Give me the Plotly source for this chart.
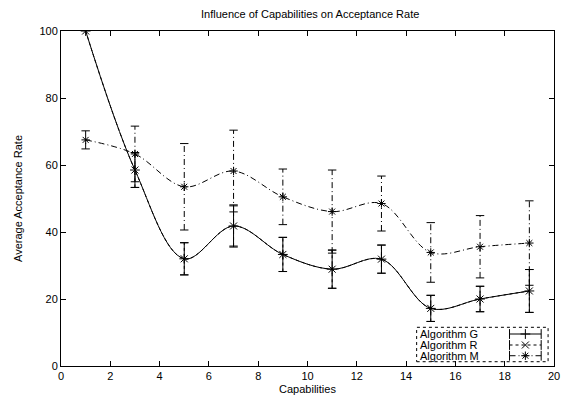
import plotly.graph_objects as go

# Capabilities tested and the average acceptance rate (%) with its spread
capabilities = [1, 3, 5, 7, 9, 11, 13, 15, 17, 19]

alg_g_mean = [100.0, 58.5, 32.0, 41.8, 33.3, 28.9, 31.9, 17.2, 20.0, 22.4]
alg_g_err = [0.0, 5.2, 4.8, 6.3, 5.1, 5.7, 4.2, 3.9, 3.8, 6.4]

alg_r_mean = [100.0, 58.5, 32.0, 41.8, 33.3, 28.9, 31.9, 17.2, 20.0, 22.4]
alg_r_err = [0.0, 5.2, 4.8, 6.0, 5.1, 5.7, 4.2, 3.9, 3.8, 6.4]

alg_m_mean = [67.5, 63.3, 53.5, 58.2, 50.5, 46.1, 48.5, 33.9, 35.6, 36.7]
alg_m_err = [2.7, 8.3, 12.9, 12.2, 8.3, 12.4, 8.2, 8.9, 9.3, 12.6]

series = [
    ("Algorithm G", alg_g_mean, alg_g_err, "solid", "cross-thin"),
    ("Algorithm R", alg_r_mean, alg_r_err, "3px,3px", "x-thin"),
    ("Algorithm M", alg_m_mean, alg_m_err, "6px,3px,1px,3px", "asterisk"),
]

FONT = "Liberation Sans, Arial, Helvetica, sans-serif"
INK = "black"

fig = go.Figure()


def bar_segments(xs, ys, errs):
    """Vertical error-bar segments separated by gaps."""
    sx, sy = [], []
    for x, y, e in zip(xs, ys, errs):
        if e > 0:
            sx += [x, x, None]
            sy += [y - e, y + e, None]
    return sx, sy


for name, mean, err, dash, symbol in series:
    # smoothed curve through the means
    fig.add_trace(go.Scatter(
        x=capabilities, y=mean, mode="lines",
        line=dict(color=INK, width=1, dash=dash, shape="spline", smoothing=1.0),
        showlegend=False, hoverinfo="skip",
    ))
    # error bar stems
    sx, sy = bar_segments(capabilities, mean, err)
    fig.add_trace(go.Scatter(
        x=sx, y=sy, mode="lines",
        line=dict(color=INK, width=1, dash=dash),
        showlegend=False, hoverinfo="skip",
    ))
    # error bar caps
    cx = [x for x, e in zip(capabilities, err) if e > 0] * 2
    cy = ([y - e for y, e in zip(mean, err) if e > 0]
          + [y + e for y, e in zip(mean, err) if e > 0])
    fig.add_trace(go.Scatter(
        x=cx, y=cy, mode="markers",
        marker=dict(symbol="line-ew", size=6, line=dict(color=INK, width=1)),
        showlegend=False, hoverinfo="skip",
    ))
    # point markers
    fig.add_trace(go.Scatter(
        x=capabilities, y=mean, mode="markers",
        marker=dict(symbol=symbol, size=7, color=INK, line=dict(color=INK, width=1)),
        name=name, showlegend=False,
    ))

# Key in the lower right corner: label on the left, sample on the right
key_x0, key_x1 = 0.7214, 0.988
key_y0, key_y1 = 0.0128, 0.1155
key_rows = [0.0955, 0.0627, 0.0307]
key_text_x = 0.7234
key_s0, key_s1 = 0.9098, 0.974

fig.add_shape(type="rect", xref="paper", yref="paper", layer="below",
              x0=key_x0, x1=key_x1, y0=key_y0, y1=key_y1,
              line=dict(color=INK, width=1, dash="dot"), fillcolor="white")

for (name, mean, err, dash, symbol), ry in zip(series, key_rows):
    fig.add_annotation(xref="paper", yref="paper", x=key_text_x, y=ry,
                       text=name, showarrow=False, xanchor="left", yanchor="middle",
                       font=dict(family=FONT, size=11, color=INK))
    fig.add_trace(go.Scatter(
        x=[key_s0, key_s1], y=[ry, ry], xaxis="x2", yaxis="y2", mode="lines",
        line=dict(color=INK, width=1, dash=dash), showlegend=False, hoverinfo="skip",
    ))
    fig.add_trace(go.Scatter(
        x=[key_s0, key_s1], y=[ry, ry], xaxis="x2", yaxis="y2", mode="markers",
        marker=dict(symbol="line-ns", size=7, line=dict(color=INK, width=1)),
        showlegend=False, hoverinfo="skip",
    ))
    fig.add_trace(go.Scatter(
        x=[(key_s0 + key_s1) / 2], y=[ry], xaxis="x2", yaxis="y2", mode="markers",
        marker=dict(symbol=symbol, size=7, color=INK, line=dict(color=INK, width=1)),
        showlegend=False, hoverinfo="skip",
    ))

axis_common = dict(
    showline=True, linecolor=INK, linewidth=1, mirror="ticks",
    ticks="inside", ticklen=5, tickcolor=INK, tickwidth=1,
    showgrid=False, zeroline=False, ticklabeloverflow="allow",
    tickfont=dict(family=FONT, size=11, color=INK),
)

fig.update_layout(
    width=565, height=401,
    margin=dict(l=61, r=5, t=31, b=35),
    paper_bgcolor="white", plot_bgcolor="white",
    showlegend=False,
    title=dict(text="Influence of Capabilities on Acceptance Rate",
               x=0.549, xanchor="center", y=0.965, yanchor="middle",
               font=dict(family=FONT, size=11, color=INK)),
    xaxis=dict(range=[0, 20], dtick=2, tick0=0,
               title=dict(text="Capabilities", standoff=4,
                          font=dict(family=FONT, size=11, color=INK)),
               **axis_common),
    yaxis=dict(range=[0, 100], dtick=20, tick0=0,
               title=dict(text="Average Acceptance Rate", standoff=14,
                          font=dict(family=FONT, size=11, color=INK)),
               **axis_common),
    xaxis2=dict(range=[0, 1], overlaying="x", visible=False, domain=[0, 1]),
    yaxis2=dict(range=[0, 1], overlaying="y", visible=False, domain=[0, 1]),
)

fig.write_html("out.html")
